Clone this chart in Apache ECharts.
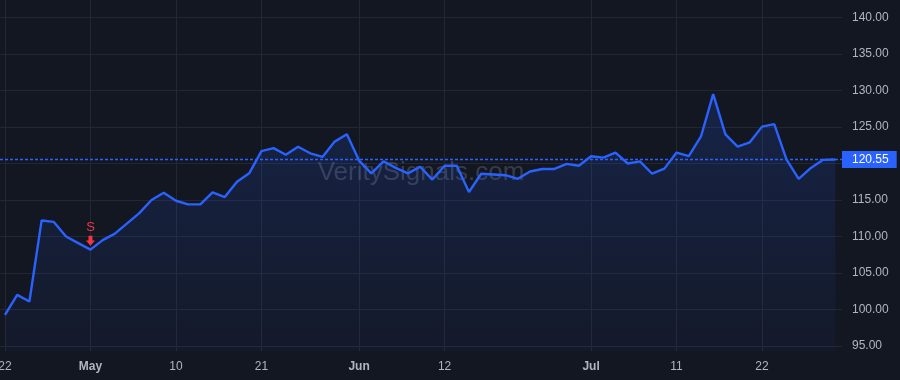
<!DOCTYPE html>
<html>
<head>
<meta charset="utf-8">
<script src="https://cdn.jsdelivr.net/npm/echarts@6/dist/echarts.min.js"></script>
<style>
html,body{margin:0;padding:0;background:#131722;}
#c{width:900px;height:380px;}
</style>
</head>
<body>
<div id="c"></div>
<script>
const dates = [
'2024-04-22','2024-04-23','2024-04-24','2024-04-25','2024-04-26','2024-04-29','2024-04-30',
'2024-05-01','2024-05-02','2024-05-03','2024-05-06','2024-05-07','2024-05-08','2024-05-09','2024-05-10',
'2024-05-13','2024-05-14','2024-05-15','2024-05-16','2024-05-17',
'2024-05-20','2024-05-21','2024-05-22','2024-05-23','2024-05-24',
'2024-05-28','2024-05-29','2024-05-30','2024-05-31',
'2024-06-03','2024-06-04','2024-06-05','2024-06-06','2024-06-07',
'2024-06-10','2024-06-11','2024-06-12','2024-06-13','2024-06-14',
'2024-06-17','2024-06-18','2024-06-20','2024-06-21',
'2024-06-24','2024-06-25','2024-06-26','2024-06-27','2024-06-28',
'2024-07-01','2024-07-02','2024-07-03','2024-07-05',
'2024-07-08','2024-07-09','2024-07-10','2024-07-11','2024-07-12',
'2024-07-15','2024-07-16','2024-07-17','2024-07-18','2024-07-19',
'2024-07-22','2024-07-23','2024-07-24','2024-07-25','2024-07-26',
'2024-07-29','2024-07-30'
];
const prices = [
99.25,102.0,101.1,112.2,112.0,110.0,109.1,
108.2,109.5,110.4,111.8,113.2,115.0,116.0,114.9,
114.4,114.4,116.05,115.4,117.5,
118.65,121.7,122.1,121.2,122.3,
121.4,120.9,123.0,124.0,
120.4,118.65,120.3,119.4,118.65,
119.55,117.8,119.7,119.7,116.1,
118.6,118.5,118.4,117.9,
118.9,119.25,119.25,119.95,119.7,
121.0,120.8,121.5,120.0,
120.3,118.6,119.3,121.5,121.0,
123.7,129.5,124.0,122.3,122.9,
125.05,125.4,120.55,117.9,119.4,
120.5,120.55
];
const tickDates = ['2024-04-22','2024-05-01','2024-05-10','2024-05-21','2024-06-03','2024-06-12','2024-07-01','2024-07-11','2024-07-22'];
const tickLabels = ['22','May','10','21','Jun','12','Jul','11','22'];
const monthLabels = ['May','Jun','Jul'];
const signalIndex = 7;
const signalLabel = 'S';
const lastPrice = prices[prices.length - 1];
const watermark = 'VeritySignals.com';

const FONT = '"Liberation Sans", Arial, sans-serif';
const TXT = '#b2b5be';
const GRID = '#232733';
const BLUE = '#2962ff';
const RED = '#f23645';

const chart = echarts.init(document.getElementById('c'), null, {renderer: 'canvas'});
chart.setOption({
  backgroundColor: '#131722',
  animation: false,
  textStyle: {fontFamily: FONT},
  graphic: [{
    type: 'text', x: 421, y: 173, z: 1,
    style: {
      text: watermark, x: 0, y: 0, align: 'center', verticalAlign: 'middle',
      font: '26px ' + FONT, fill: 'rgba(130,136,155,0.33)'
    }
  }],
  grid: [
    {left: 0, right: 58, top: -19, bottom: -2.5, containLabel: false, outerBoundsMode: 'none'},
    {left: 5, right: 64.7, top: 0, bottom: 29, containLabel: false, outerBoundsMode: 'none'}
  ],
  xAxis: [
    {gridIndex: 0, type: 'value', min: 0, max: 1, show: false},
    {
      gridIndex: 1, type: 'category', data: dates, boundaryGap: false,
      axisLine: {show: false}, axisTick: {show: false},
      axisLabel: {
        interval: function (i, v) { return tickDates.indexOf(v) >= 0; },
        formatter: function (v) {
          const l = tickLabels[tickDates.indexOf(v)];
          return monthLabels.indexOf(l) >= 0 ? '{b|' + l + '}' : l;
        },
        color: TXT, fontSize: 12, margin: 10, fontFamily: FONT,
        rich: {b: {fontWeight: 'bold', color: TXT, fontSize: 12, fontFamily: FONT}}
      },
      splitLine: {
        show: true,
        interval: function (i, v) { return tickDates.indexOf(v) >= 0; },
        lineStyle: {color: GRID, width: 1}
      }
    }
  ],
  yAxis: [
    {
      gridIndex: 0, type: 'value', position: 'right', min: 90, max: 145, interval: 5,
      axisLine: {show: false}, axisTick: {show: false},
      axisLabel: {
        color: TXT, fontSize: 12, margin: 10, fontFamily: FONT,
        showMinLabel: false, showMaxLabel: false,
        formatter: function (v) { return v.toFixed(2); }
      },
      splitLine: {show: true, lineStyle: {color: GRID, width: 1}}
    },
    {gridIndex: 1, type: 'value', min: 94.315, max: 142.397, show: false, splitLine: {show: false}}
  ],
  series: [
    {
      type: 'line', xAxisIndex: 0, yAxisIndex: 0, silent: true, z: 4,
      data: [[0, lastPrice], [1, lastPrice]],
      symbol: 'none', color: BLUE,
      lineStyle: {color: BLUE, type: [3, 2], width: 1.5},
      emphasis: {disabled: true},
      endLabel: {
        show: true, distance: 0,
        formatter: function () { return lastPrice.toFixed(2); },
        backgroundColor: BLUE, color: '#ffffff', fontSize: 12, fontFamily: FONT,
        padding: [3, 8, 2, 10], lineHeight: 12
      }
    },
    {
      type: 'line', xAxisIndex: 1, yAxisIndex: 1, data: prices, z: 3,
      symbol: 'none', smooth: false,
      lineStyle: {color: BLUE, width: 2.4},
      areaStyle: {
        origin: 'start',
        color: new echarts.graphic.LinearGradient(0, 0, 0, 1, [
          {offset: 0, color: 'rgba(41,98,255,0.24)'},
          {offset: 1, color: 'rgba(41,98,255,0.05)'}
        ])
      },
      markPoint: {
        silent: true,
        symbol: 'path://M2.5,0 L6.5,0 L6.5,4.5 L9,4.5 L4.5,9.5 L0,4.5 L2.5,4.5 Z',
        symbolSize: [9, 10],
        symbolOffset: [0, -9],
        itemStyle: {color: RED},
        label: {
          show: true, position: 'top', distance: 2,
          formatter: signalLabel, color: RED, fontSize: 13, fontFamily: FONT
        },
        data: [{coord: [dates[signalIndex], prices[signalIndex]]}]
      }
    }
  ]
});
</script>
</body>
</html>
